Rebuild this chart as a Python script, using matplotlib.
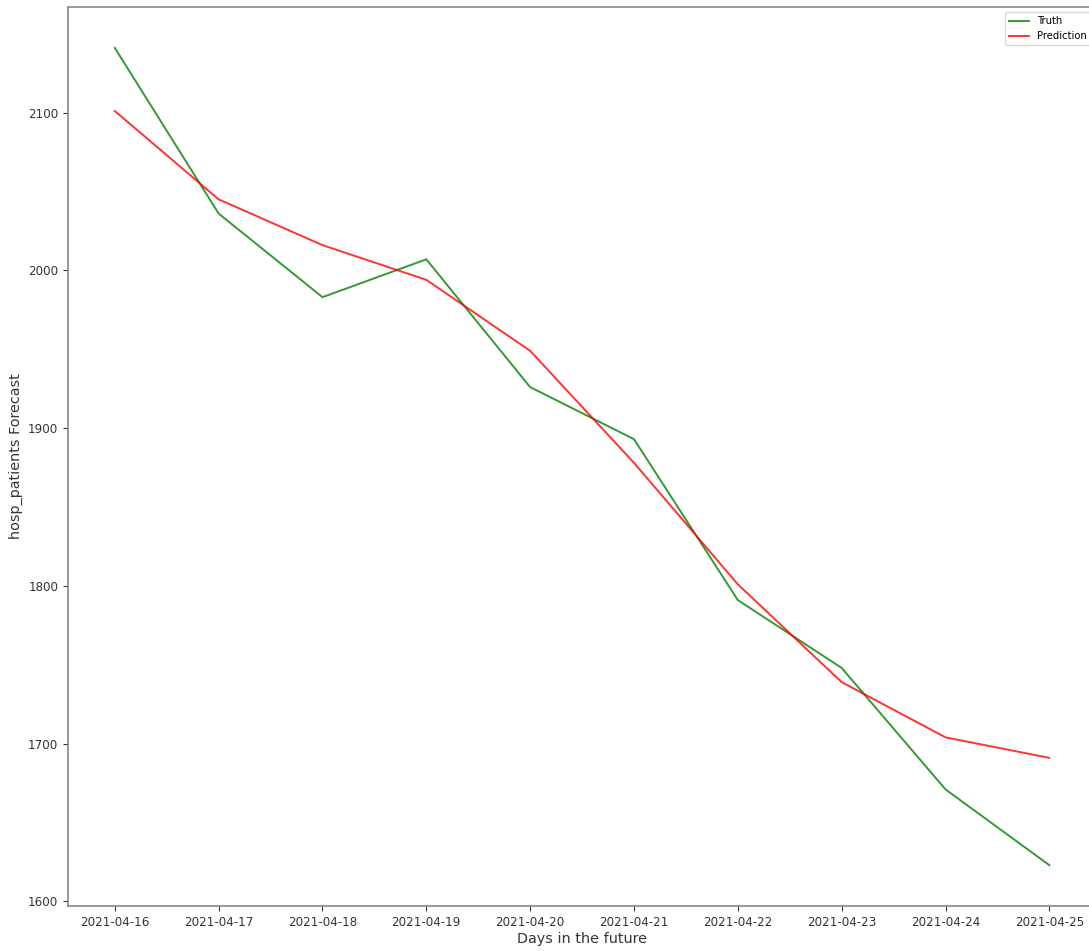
import pandas as pd
import matplotlib
matplotlib.use('Agg')
import matplotlib.pyplot as plt

# Forecast window and values
dates = pd.date_range('2021-04-16', '2021-04-25', freq='D')
truth = [2141, 2036, 1983, 2007, 1926, 1893, 1791, 1748, 1671, 1623]
prediction = [2101, 2045, 2016, 1994, 1949, 1878, 1801, 1739, 1704, 1691]

fig = plt.figure(figsize=(10.89, 9.51), dpi=100)
ax = fig.add_axes([0.0625, 0.0473, 0.944, 0.9453])

ax.plot(dates, truth, color='green', alpha=0.8, linewidth=1.4, label='Truth')
ax.plot(dates, prediction, color='red', alpha=0.8, linewidth=1.4, label='Prediction')

ax.set_xticks(dates)
ax.set_xticklabels([d.strftime('%Y-%m-%d') for d in dates])
ax.set_yticks([1600, 1700, 1800, 1900, 2000, 2100])

ax.tick_params(labelsize=8.6, colors='#333333', length=3.5)
for s in ax.spines.values():
    s.set_color('#888888')
    s.set_linewidth(1.2)
# the frame runs past the right edge of the figure
ax.spines['right'].set_visible(False)

ax.set_xlabel('Days in the future', fontsize=10.4, color='#333333', labelpad=2)
ax.set_ylabel('hosp_patients Forecast', fontsize=10.4, color='#333333')

ax.legend(loc='upper right', fontsize=7.2)

fig.savefig('out.png', dpi=100)
